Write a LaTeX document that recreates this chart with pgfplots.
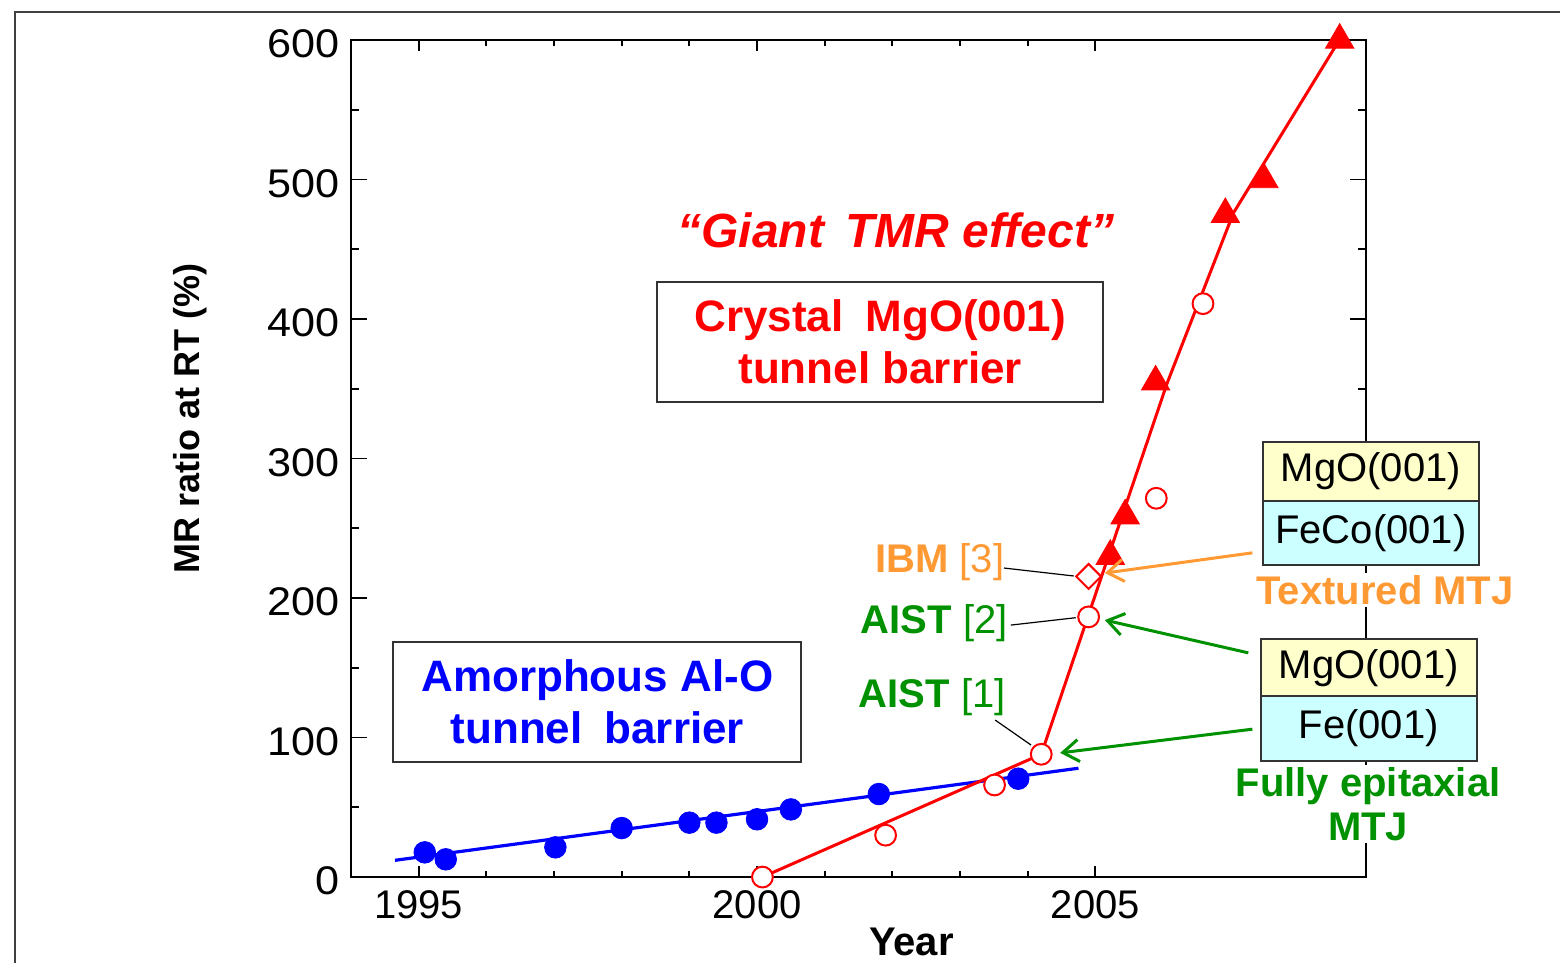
\documentclass[border=0pt]{standalone}
\usepackage{fontspec}
\setmainfont{Liberation Sans}
\usepackage{pgfplots}
\pgfplotsset{compat=1.18}
\usetikzlibrary{arrows.meta}
\definecolor{myred}{RGB}{255,0,0}
\definecolor{myblue}{RGB}{0,0,255}
\definecolor{mygreen}{RGB}{0,145,0}
\definecolor{myorange}{RGB}{255,153,51}
\definecolor{myyellow}{RGB}{255,255,204}
\definecolor{mycyan}{RGB}{204,255,255}

\pgfplotstableread{
x y
1995.09 17.7
1995.40 12.7
1997.02 21.3
1998.00 35.1
1999.00 39
1999.40 39
2000.00 41.4
2000.50 48.5
2001.80 59.5
2003.86 70.5
}\aloxpts

\pgfplotstableread{
x y
1994.65 12
2004.75 78
}\aloxline

\pgfplotstableread{
x y
2000.08 0
2001.90 30
2003.51 66
2004.20 88
2004.90 186.5
2005.90 271.5
2006.59 411
}\mgocirc

\pgfplotstableread{
x y
2004.90 215.5
}\ibmdiam

\pgfplotstableread{
x y
2005.22 230
2005.44 259
2005.89 355
2006.92 475
2007.49 500
2008.61 600
}\mgotri

\pgfplotstableread{
x y
2000.08 0
2004.20 88
2006.06 354
2007.04 476
2008.58 598
}\mgoline

\begin{document}
\begin{tikzpicture}
\begin{axis}[
  at={(0,0)}, anchor=south west,
  scale only axis, width=507.5pt, height=418.5pt,
  xmin=1994, xmax=2009, ymin=0, ymax=600,
  xtick={1995,2000,2005}, xticklabels={1995,2000,2005},
  minor x tick num=4,
  ytick={0,100,200,300,400,500,600},
  yticklabels={\scalebox{1.08}[1]{0},\scalebox{1.08}[1]{100},\scalebox{1.08}[1]{200},\scalebox{1.08}[1]{300},\scalebox{1.08}[1]{400},\scalebox{1.08}[1]{500},\scalebox{1.08}[1]{600}},
  minor y tick num=1,
  tick align=inside,
  axis line style={line width=0.9pt, black},
  every tick/.style={black, line width=0.9pt},
  xtick style={/pgfplots/major tick length=5.5pt,/pgfplots/minor tick length=3pt},
  ytick style={/pgfplots/major tick length=8pt,/pgfplots/minor tick length=4pt},
  xticklabel style={font=\fontsize{20}{24}\selectfont, yshift=-3pt},
  yticklabel style={font=\fontsize{20}{24}\selectfont, xshift=-2pt, yshift=-2pt},
  clip=false,
]
\addplot[myblue, line width=1.6pt, no markers] table {\aloxline};
\addplot[myred, line width=1.5pt, no markers] table {\mgoline};
\addplot[only marks, mark=*, mark size=5.4pt, mark options={draw=myblue, fill=myblue}] table {\aloxpts};
\addplot[only marks, mark=triangle*, mark size=8.2pt, mark options={draw=myred, fill=myred}] table {\mgotri};
\addplot[only marks, mark=*, mark size=5.2pt, mark options={draw=myred, fill=white, line width=1pt}] table {\mgocirc};
\addplot[only marks, mark=diamond*, mark size=6.2pt, mark options={draw=myred, fill=white, line width=1pt, xscale=1.333}] table {\ibmdiam};

% named positions for annotations
\coordinate (bbsw) at (axis cs:1988.813,-60.93);
\coordinate (bbne) at (axis cs:2011.866,628.67);
\coordinate (frB) at (axis cs:1989.035,-70);
\coordinate (frTL) at (axis cs:1989.035,620.1);
\coordinate (frTR) at (axis cs:2012.5,620.1);
\coordinate (ylab) at (axis cs:1991.62,329);
\coordinate (xlab) at (axis cs:2002.28,-46.6);
\coordinate (giant) at (axis cs:2002.05,463.8);
\coordinate (crys) at (axis cs:2001.82,383.5);
\coordinate (amor) at (axis cs:1997.64,125.4);
\coordinate (ibm) at (axis cs:2003.66,226);
\coordinate (aist2) at (axis cs:2003.71,182);
\coordinate (aist1) at (axis cs:2003.68,129);
\coordinate (l3a) at (axis cs:2003.65,221.5);
\coordinate (l3b) at (axis cs:2004.68,215.8);
\coordinate (l2a) at (axis cs:2003.75,180.6);
\coordinate (l2b) at (axis cs:2004.71,185.9);
\coordinate (l1a) at (axis cs:2003.52,112.5);
\coordinate (l1b) at (axis cs:2004.05,94.6);
\coordinate (a3a) at (axis cs:2007.32,232.4);
\coordinate (a3b) at (axis cs:2005.14,217.9);
\coordinate (a2a) at (axis cs:2007.26,160.7);
\coordinate (a2b) at (axis cs:2005.14,184.2);
\coordinate (a1a) at (axis cs:2007.32,106);
\coordinate (a1b) at (axis cs:2004.48,89);
\coordinate (b1tl) at (axis cs:2007.478,311.8);
\coordinate (b1mr) at (axis cs:2010.664,269.7);
\coordinate (b1ml) at (axis cs:2007.478,269.7);
\coordinate (b1br) at (axis cs:2010.664,223.7);
\coordinate (b2tl) at (axis cs:2007.443,170.3);
\coordinate (b2mr) at (axis cs:2010.632,129.9);
\coordinate (b2ml) at (axis cs:2007.443,129.9);
\coordinate (b2br) at (axis cs:2010.632,83.2);
\coordinate (t1a) at (axis cs:2009.07,291);
\coordinate (t1b) at (axis cs:2009.07,246.6);
\coordinate (t2a) at (axis cs:2009.04,149.8);
\coordinate (t2b) at (axis cs:2009.04,106.8);
\coordinate (textured) at (axis cs:2009.28,205.7);
\coordinate (fully) at (axis cs:2009.03,52.3);
\end{axis}

% frame of the slide
\draw[line width=1.2pt, black!75] (frB) -- (frTL) -- (frTR);

% axis titles
\node[rotate=90, font=\fontsize{18}{22}\selectfont\bfseries] at (ylab) {MR ratio at RT (\%)};
\node[font=\fontsize{20}{24}\selectfont\bfseries] at (xlab) {Year};

% big labels
\node[font=\fontsize{24}{28}\selectfont\bfseries\itshape, text=myred] at (giant) {“Giant\hspace{0.45em}TMR effect”};
\node[draw=black!80, line width=1pt, minimum width=223pt, minimum height=60pt, inner sep=0pt,
      align=center, font=\fontsize{22}{26}\selectfont\bfseries, text=myred] at (crys)
      {Crystal\hspace{0.5em}MgO(001)\\tunnel barrier};
\node[draw=black!80, line width=1pt, minimum width=204pt, minimum height=60pt, inner sep=0pt,
      align=center, font=\fontsize{22}{26}\selectfont\bfseries, text=myblue] at (amor)
      {Amorphous Al-O\\tunnel\hspace{0.5em}barrier};

% reference labels
\node[anchor=east, inner sep=0pt, text=myorange, font=\fontsize{20}{24}\selectfont] at (ibm) {\textbf{IBM} [3]};
\node[anchor=east, inner sep=0pt, text=mygreen, font=\fontsize{20}{24}\selectfont] at (aist2) {\textbf{AIST} [2]};
\node[anchor=east, inner sep=0pt, text=mygreen, font=\fontsize{20}{24}\selectfont] at (aist1) {\textbf{AIST} [1]};
\draw[black, line width=0.6pt] (l3a) -- (l3b);
\draw[black, line width=0.6pt] (l2a) -- (l2b);
\draw[black, line width=0.6pt] (l1a) -- (l1b);

% arrows
\draw[myorange, line width=1.5pt, -{Straight Barb[length=8pt,width=11pt]}] (a3a) -- (a3b);
\draw[mygreen, line width=1.5pt, -{Straight Barb[length=8pt,width=11pt]}] (a2a) -- (a2b);
\draw[mygreen, line width=1.5pt, -{Straight Barb[length=8pt,width=11pt]}] (a1a) -- (a1b);

% layer stacks
\filldraw[fill=myyellow, draw=black!80, line width=1pt] (b1tl) rectangle (b1mr);
\filldraw[fill=mycyan, draw=black!80, line width=1pt] (b1ml) rectangle (b1br);
\filldraw[fill=myyellow, draw=black!80, line width=1pt] (b2tl) rectangle (b2mr);
\filldraw[fill=mycyan, draw=black!80, line width=1pt] (b2ml) rectangle (b2br);
\node[font=\fontsize{20}{24}\selectfont] at (t1a) {MgO(001)};
\node[font=\fontsize{20}{24}\selectfont] at (t1b) {FeCo(001)};
\node[font=\fontsize{20}{24}\selectfont] at (t2a) {MgO(001)};
\node[font=\fontsize{20}{24}\selectfont] at (t2b) {Fe(001)};
\node[fill=white, inner sep=1pt, text=myorange, font=\fontsize{20}{24}\selectfont\bfseries] at (textured) {Textured MTJ};
\node[fill=white, inner sep=1pt, align=center, text=mygreen, font=\fontsize{20}{22}\selectfont\bfseries] at (fully) {Fully epitaxial\\MTJ};

\pgfresetboundingbox
\useasboundingbox (bbsw) rectangle (bbne);
\end{tikzpicture}
\end{document}
